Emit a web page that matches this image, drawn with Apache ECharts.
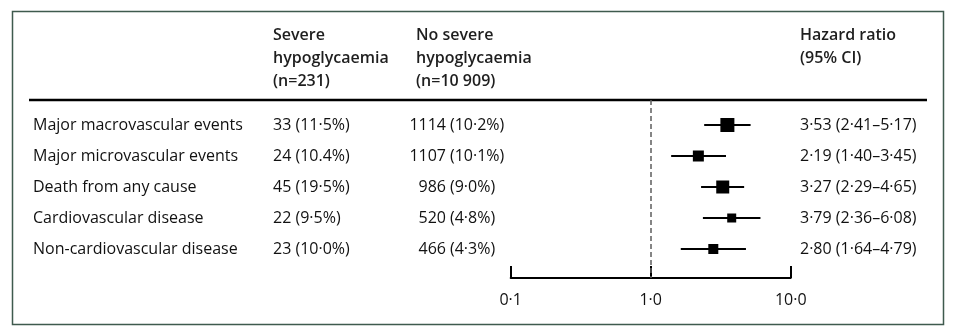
<!DOCTYPE html>
<html>
<head>
<meta charset="utf-8">
<script src="https://cdn.jsdelivr.net/npm/echarts@6/dist/echarts.min.js"></script>
<style>
  html, body { margin: 0; padding: 0; background: #fff; }
  #chart { width: 956px; height: 336px; }
</style>
</head>
<body>
<div id="chart"></div>
<script>
// Outcomes and event counts
const outcomes = [
  'Major macrovascular events',
  'Major microvascular events',
  'Death from any cause',
  'Cardiovascular disease',
  'Non-cardiovascular disease'
];
const severeCount = [33, 24, 45, 22, 23];
const severePct = ['11·5', '10.4', '19·5', '9·5', '10·0'];
const noSevereCount = [1114, 1107, 986, 520, 466];
const noSeverePct = ['10·2', '10·1', '9·0', '4·8', '4·3'];

// Hazard ratios with 95% confidence limits
const hazardRatio = [3.53, 2.19, 3.27, 3.79, 2.80];
const ciLower = [2.41, 1.40, 2.29, 2.36, 1.64];
const ciUpper = [5.17, 3.45, 4.65, 6.08, 4.79];

// Log-scale axis ticks
const axisTicks = [0.1, 1, 10];
const axisTickLabels = ['0·1', '1·0', '10·0'];

// Marker side length for each row, px
const boxSide = [14, 11, 13, 9, 10];

const FONT = '"Open Sans", "Noto Sans", sans-serif';
const FS = 16;
const INK = '#111';
const fmt = v => v.toFixed(2).replace('.', '·');

const chart = echarts.init(document.getElementById('chart'), null, { renderer: 'canvas' });

const rowIdx = outcomes.map((_, i) => i);

chart.setOption({
  animation: false,
  grid: { left: 510.7, right: 165.3, top: 100, bottom: 58 },
  xAxis: {
    type: 'log',
    logBase: 10,
    min: 0.1,
    max: 10,
    splitLine: { show: false },
    axisLine: { show: true, onZero: false, lineStyle: { color: '#000', width: 2 } },
    axisTick: { show: true, inside: true, length: 12, lineStyle: { color: '#000', width: 2 } },
    minorTick: { show: false },
    axisLabel: {
      margin: 14,
      fontFamily: FONT,
      fontSize: FS,
      fontWeight: 500,
      color: INK,
      formatter: v => {
        const k = axisTicks.findIndex(t => Math.abs(t - v) < 1e-9);
        return k >= 0 ? axisTickLabels[k] : '';
      }
    }
  },
  yAxis: {
    type: 'value',
    inverse: true,
    min: -25 / 31,
    max: -25 / 31 + 178 / 31,
    show: false
  },
  series: [{
    type: 'custom',
    data: rowIdx.map(i => [hazardRatio[i], i, ciLower[i], ciUpper[i]]),
    encode: { x: 0, y: 1 },
    renderItem: (params, api) => {
      const i = api.value(1);
      const c = api.coord([api.value(0), i]);
      const lo = api.coord([api.value(2), i]);
      const hi = api.coord([api.value(3), i]);
      const s = boxSide[params.dataIndex];
      return {
        type: 'group',
        children: [
          { type: 'line', shape: { x1: lo[0], y1: lo[1], x2: hi[0], y2: hi[1] },
            style: { stroke: '#000', lineWidth: 2 } },
          { type: 'rect', shape: { x: c[0] - s / 2, y: c[1] - s / 2, width: s, height: s },
            style: { fill: '#000' } }
        ]
      };
    },
    markLine: {
      silent: true,
      symbol: 'none',
      label: { show: false },
      lineStyle: { color: '#5e5e5e', width: 1.5, type: [5, 3] },
      data: [{ xAxis: 1 }]
    }
  }]
});

// Table text laid out on the rows of the plot's y scale
const rowY = i => chart.convertToPixel({ yAxisIndex: 0 }, i);
const txt = (x, y, text, opt = {}) => ({
  type: 'text',
  x, y,
  style: Object.assign({
    text,
    fontFamily: FONT,
    fontSize: FS,
    fontWeight: 500,
    fill: INK,
    textVerticalAlign: 'middle',
    textAlign: 'left'
  }, opt)
});
const bold = { fontWeight: 600, fill: '#1e1e1e' };

const elements = [
  { type: 'rect', shape: { x: 12.5, y: 11.5, width: 931, height: 313 },
    style: { fill: 'none', stroke: '#3f5a4e', lineWidth: 1.5 } },
  { type: 'line', shape: { x1: 29, y1: 100, x2: 927, y2: 100 },
    style: { stroke: '#000', lineWidth: 2.5 } }
];

const headY = [35, 58, 81];
['Severe', 'hypoglycaemia', '(n=231)'].forEach((t, k) => elements.push(txt(273, headY[k], t, bold)));
['No severe', 'hypoglycaemia', '(n=10 909)'].forEach((t, k) => elements.push(txt(416, headY[k], t, bold)));
['Hazard ratio', '(95% CI)'].forEach((t, k) => elements.push(txt(800, headY[k], t, bold)));

rowIdx.forEach(i => {
  const y = rowY(i);
  elements.push(txt(33, y, outcomes[i]));
  elements.push(txt(273, y, `${severeCount[i]} (${severePct[i]}%)`));
  elements.push(txt(446, y, String(noSevereCount[i]), { textAlign: 'right' }));
  elements.push(txt(450, y, `(${noSeverePct[i]}%)`));
  elements.push(txt(800, y, `${fmt(hazardRatio[i])} (${fmt(ciLower[i])}–${fmt(ciUpper[i])})`));
});

chart.setOption({ graphic: { elements } });
</script>
</body>
</html>
